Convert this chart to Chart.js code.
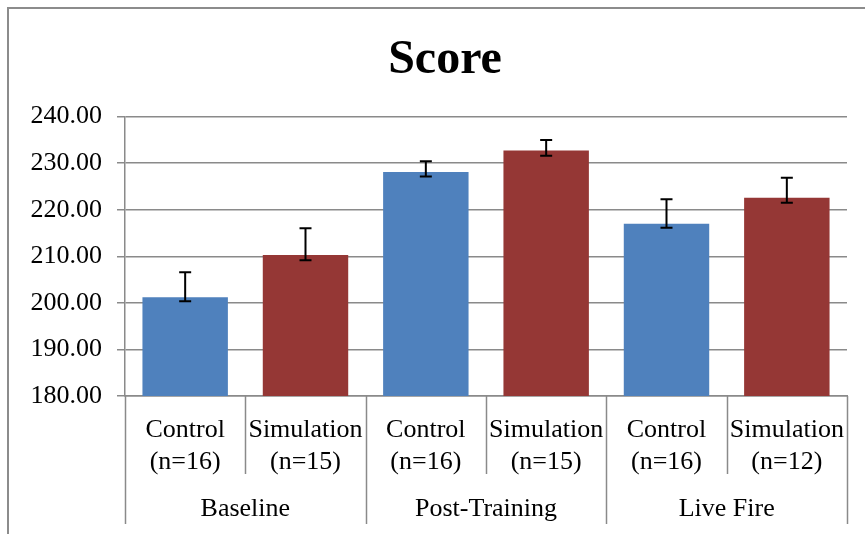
<!DOCTYPE html>
<html>
<head>
<meta charset="utf-8">
<script src="https://cdn.jsdelivr.net/npm/chart.js@4/dist/chart.umd.min.js"></script>
<style>
  html, body { margin:0; padding:0; width:867px; height:534px; overflow:hidden; background:#fff; }
  #frame { position:absolute; left:7px; top:7px; width:856px; height:540px; border-left:2px solid #8c8c8c; border-top:2px solid #8c8c8c; background:transparent; overflow:visible; }
  #c { display:block; }
</style>
</head>
<body>
<div id="frame"><canvas id="c" width="872" height="525"></canvas></div>
<script>
// ---- data ----
const categories = [
  ['Control', '(n=16)'], ['Simulation', '(n=15)'],
  ['Control', '(n=16)'], ['Simulation', '(n=15)'],
  ['Control', '(n=16)'], ['Simulation', '(n=12)']
];
const groups = ['Baseline', 'Post-Training', 'Live Fire'];
const means     = [201.2, 210.3, 228.1, 232.7, 217.0, 222.6];
const errPlus   = [5.4, 5.7, 2.3, 2.3, 5.25, 4.25];
const errMinus  = [0.85, 1.15, 0.95, 1.1, 0.85, 1.1];
const yTicks = { min: 180, max: 240, step: 10 };

const BLUE = '#4F81BD', RED = '#953735', GRID = '#8a8a8a';
const FONT = "'Liberation Serif', 'Times New Roman', serif";

const decor = {
  id: 'decor',
  afterDraw(chart) {
    const ctx = chart.ctx, x = chart.scales.x, y = chart.scales.y;
    const ca = chart.chartArea;
    ctx.save();
    // category separators below the axis
    ctx.strokeStyle = GRID; ctx.lineWidth = 1.5;
    for (let k = 0; k <= categories.length; k++) {
      const px = Math.round(x.getPixelForValue(k - 0.5)) + 0.5;
      const len = (k % 2 === 0) ? 128 : 78;
      ctx.beginPath(); ctx.moveTo(px, ca.bottom); ctx.lineTo(px, ca.bottom + len); ctx.stroke();
    }
    // error bars
    ctx.strokeStyle = '#000'; ctx.lineWidth = 2;
    means.forEach((m, i) => {
      const cx = x.getPixelForValue(i);
      const yt = y.getPixelForValue(m + errPlus[i]);
      const yb = y.getPixelForValue(m - errMinus[i]);
      ctx.beginPath();
      ctx.moveTo(cx, yt); ctx.lineTo(cx, yb);
      ctx.moveTo(cx - 6, yt); ctx.lineTo(cx + 6, yt);
      ctx.moveTo(cx - 6, yb); ctx.lineTo(cx + 6, yb);
      ctx.stroke();
    });
    ctx.restore();
  }
};

new Chart(document.getElementById('c'), {
  type: 'bar',
  data: {
    labels: categories,
    datasets: [{
      data: means,
      backgroundColor: means.map((_, i) => i % 2 === 0 ? BLUE : RED),
      borderWidth: 0,
      barPercentage: 0.71,
      categoryPercentage: 1.0
    }]
  },
  options: {
    responsive: false,
    animation: false,
    layout: { padding: { left: 0, right: 0, top: 0, bottom: 9 } },
    plugins: {
      legend: { display: false },
      tooltip: { enabled: false },
      title: {
        display: true, text: 'Score', color: '#000',
        font: { family: FONT, size: 48, weight: 'bold', lineHeight: 1.2 },
        padding: { top: 23, bottom: 27 }
      }
    },
    scales: {
      y: {
        min: yTicks.min, max: yTicks.max,
        ticks: {
          stepSize: yTicks.step, color: '#000', padding: 15,
          font: { family: FONT, size: 26 },
          callback: v => Number(v).toFixed(2)
        },
        grid: { color: GRID, lineWidth: 1.5, tickLength: 8 },
        border: { color: GRID, width: 1.5 },
        afterFit(s) { s.width = 116; }
      },
      yRight: {
        position: 'right', display: true,
        min: yTicks.min, max: yTicks.max,
        ticks: { display: false },
        grid: { display: false, drawTicks: false },
        border: { display: false },
        afterFit(s) { s.width = 34; }
      },
      x: {
        type: 'category', position: 'bottom', offset: true,
        ticks: {
          color: '#000', padding: 19, autoSkip: false, maxRotation: 0,
          font: { family: FONT, size: 26, lineHeight: 1.2 }
        },
        grid: { display: false, drawTicks: false },
        border: { display: true, color: GRID, width: 1.5 },
        afterFit(s) { s.height = 81; }
      },
      x2: {
        type: 'category', position: 'bottom', offset: true,
        labels: groups,
        ticks: {
          color: '#000', padding: 17, autoSkip: false, maxRotation: 0,
          font: { family: FONT, size: 26, lineHeight: 1.2 }
        },
        grid: { display: false, drawTicks: false },
        border: { display: false },
        afterFit(s) { s.height = 48; }
      }
    }
  },
  plugins: [decor]
});
</script>
</body>
</html>
